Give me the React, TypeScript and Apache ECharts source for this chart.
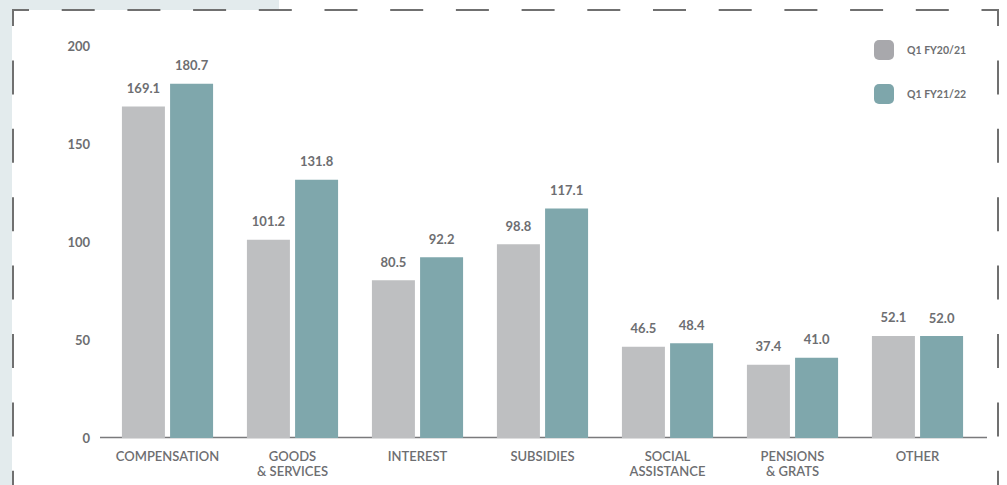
import React, { useEffect, useRef } from "react";
import * as echarts from "echarts";

const categories = ["COMPENSATION", "GOODS\n& SERVICES", "INTEREST", "SUBSIDIES", "SOCIAL\nASSISTANCE", "PENSIONS\n& GRATS", "OTHER"];
const seriesNames = ["Q1 FY20/21", "Q1 FY21/22"];
const fy2021 = [169.1, 101.2, 80.5, 98.8, 46.5, 37.4, 52.1];
const fy2122 = [180.7, 131.8, 92.2, 117.1, 48.4, 41.0, 52.0];

const FONT = "Lato, 'Open Sans', sans-serif";
const TXT = "#6d6e71";
const DASH = "#707070";

export default function App() {
  const ref = useRef<HTMLDivElement>(null);
  useEffect(() => {
    const chart = echarts.init(ref.current!, null, { renderer: "svg" });
    const label = {
      show: true,
      position: "top",
      distance: 12,
      color: TXT,
      fontFamily: FONT,
      fontWeight: "bold",
      fontSize: 13,
      formatter: (p: any) => Number(p.value).toFixed(1),
    };
    chart.setOption({
      animation: false,
      backgroundColor: "#ffffff",
      textStyle: { fontFamily: FONT },
      grid: { left: 105, right: 27, top: 46, bottom: 47 },
      legend: {
        orient: "vertical",
        left: 874,
        top: 40,
        padding: 0,
        itemWidth: 20,
        itemHeight: 20,
        itemGap: 24,
        icon: "roundRect",
        textStyle: { color: TXT, fontSize: 10.5, fontWeight: "bold", fontFamily: FONT, padding: [0, 0, 0, 8] },
        data: [
          { name: seriesNames[0], itemStyle: { color: "#a8a8ac" } },
          { name: seriesNames[1], itemStyle: { color: "#7ea6ab" } },
        ],
      },
      xAxis: {
        type: "category",
        data: categories,
        axisLine: { show: false },
        axisTick: { show: false },
        axisLabel: { color: TXT, fontSize: 13, fontWeight: 600, fontFamily: FONT, margin: 10, lineHeight: 15, interval: 0 },
      },
      yAxis: {
        type: "value",
        min: 0,
        max: 200,
        interval: 50,
        splitLine: { show: false },
        axisLine: { show: false },
        axisTick: { show: false },
        axisLabel: { color: TXT, fontSize: 13, fontWeight: "bold", fontFamily: FONT, margin: 15 },
      },
      series: [
        {
          name: seriesNames[0],
          type: "bar",
          data: fy2021,
          itemStyle: { color: "#bebfc1" },
          barWidth: 43,
          barGap: "12%",
          label,
        },
        {
          name: seriesNames[1],
          type: "bar",
          data: fy2122,
          itemStyle: { color: "#7fa7ac" },
          barWidth: 43,
          label,
        },
      ],
      graphic: [
        { type: "rect", shape: { x: 0, y: 0, width: 12, height: 485 }, style: { fill: "#e3ebed" }, silent: true },
        { type: "rect", shape: { x: 0, y: 0, width: 279, height: 10 }, style: { fill: "#e3ebed" }, silent: true },
        {
          type: "line",
          shape: { x1: 13, y1: 10, x2: 999, y2: 10 },
          style: { stroke: DASH, lineWidth: 2, lineDash: [33, 32.7], lineDashOffset: 17 },
          silent: true,
        },
        {
          type: "line",
          shape: { x1: 13, y1: 9, x2: 13, y2: 485 },
          style: { stroke: DASH, lineWidth: 2, lineDash: [34, 34.4], lineDashOffset: 17 },
          silent: true,
        },
        {
          type: "line",
          shape: { x1: 998, y1: 9, x2: 998, y2: 485 },
          style: { stroke: DASH, lineWidth: 2, lineDash: [34, 34.4], lineDashOffset: 17 },
          silent: true,
        },
        {
          type: "line",
          shape: { x1: 100, y1: 437.5, x2: 987, y2: 437.5 },
          style: { stroke: "#7a7a7c", lineWidth: 1.5 },
          silent: true,
        },
      ],
    });
    return () => chart.dispose();
  }, []);
  return <div ref={ref} style={{ position: "fixed", left: 0, top: 0, width: 1007, height: 485 }} />;
}
